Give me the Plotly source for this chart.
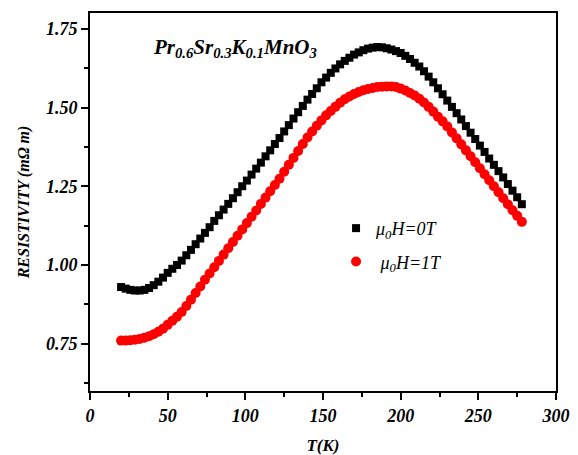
import plotly.graph_objects as go

# Temperature (K)
T = [20, 23, 26, 29, 32, 35, 38, 41, 44, 47, 50, 53, 56, 59, 62, 65, 68, 71, 74, 77,
     80, 83, 86, 89, 92, 95, 98, 101, 104, 107, 110, 113, 116, 119, 122, 125, 128, 131, 134, 137,
     140, 143, 146, 149, 152, 155, 158, 161, 164, 167, 170, 173, 176, 179, 182, 185, 188, 191, 194, 197,
     200, 203, 206, 209, 212, 215, 218, 221, 224, 227, 230, 233, 236, 239, 242, 245, 248, 251, 254, 257,
     260, 263, 266, 269, 272, 275, 278]

# Resistivity at mu0H = 0 T (mOhm m)
rho_0T = [0.930, 0.925, 0.921, 0.919, 0.919, 0.921, 0.927, 0.936, 0.947, 0.960,
          0.975, 0.988, 1.000, 1.014, 1.031, 1.048, 1.066, 1.084, 1.102, 1.120,
          1.140, 1.158, 1.176, 1.194, 1.212, 1.231, 1.250, 1.268, 1.287, 1.306,
          1.325, 1.345, 1.364, 1.384, 1.403, 1.424, 1.444, 1.465, 1.485, 1.505,
          1.525, 1.543, 1.561, 1.580, 1.595, 1.610, 1.624, 1.637, 1.648, 1.658,
          1.668, 1.675, 1.682, 1.687, 1.690, 1.692, 1.691, 1.688, 1.684, 1.679,
          1.673, 1.664, 1.654, 1.642, 1.630, 1.615, 1.598, 1.580, 1.561, 1.542,
          1.522, 1.502, 1.482, 1.462, 1.441, 1.420, 1.400, 1.379, 1.359, 1.338,
          1.318, 1.298, 1.278, 1.257, 1.236, 1.215, 1.193]

# Resistivity at mu0H = 1 T (mOhm m)
rho_1T = [0.760, 0.760, 0.761, 0.763, 0.765, 0.769, 0.774, 0.780, 0.788, 0.798,
          0.810, 0.823, 0.836, 0.851, 0.870, 0.890, 0.911, 0.932, 0.953, 0.973,
          0.993, 1.013, 1.033, 1.053, 1.073, 1.093, 1.113, 1.133, 1.153, 1.173,
          1.194, 1.214, 1.234, 1.254, 1.274, 1.296, 1.318, 1.340, 1.362, 1.384,
          1.405, 1.424, 1.442, 1.459, 1.475, 1.489, 1.502, 1.515, 1.526, 1.535,
          1.543, 1.549, 1.555, 1.559, 1.562, 1.565, 1.566, 1.567, 1.567, 1.565,
          1.560, 1.554, 1.546, 1.538, 1.528, 1.516, 1.502, 1.487, 1.471, 1.456,
          1.440, 1.421, 1.402, 1.383, 1.364, 1.345, 1.326, 1.307, 1.288, 1.269,
          1.250, 1.231, 1.212, 1.193, 1.174, 1.156, 1.137]

x_ticks = [0, 50, 100, 150, 200, 250, 300]
y_ticks = [0.75, 1.00, 1.25, 1.50, 1.75]

SERIF = "Liberation Serif"

fig = go.Figure()
fig.add_trace(go.Scatter(
    x=T, y=rho_0T, mode="markers", name="<i>μ<sub>0</sub>H=0T</i>",
    legendgroup="a",
    marker=dict(symbol="square", size=8, color="black", line=dict(width=0)),
))
fig.add_trace(go.Scatter(
    x=T, y=rho_1T, mode="markers", name=" <i>μ<sub>0</sub>H=1T</i>",
    legendgroup="b",
    marker=dict(symbol="circle", size=10, color="#ff0000", line=dict(width=0)),
))

axis_common = dict(
    showline=True, linecolor="black", linewidth=2, mirror=True,
    ticks="outside", ticklen=7, tickwidth=1.5, tickcolor="black",
    showgrid=False, zeroline=False, automargin=False,
    tickfont=dict(family=SERIF, size=18, color="black", weight="bold", style="italic"),
)

fig.update_xaxes(
    range=[0, 300], tickmode="array", tickvals=x_ticks,
    ticktext=[str(v) for v in x_ticks],
    minor=dict(dtick=25, ticks="outside", ticklen=4, tickwidth=1.5, tickcolor="black"),
    title=dict(text="T(K)", standoff=17,
               font=dict(family=SERIF, size=17, color="black", weight="bold", style="italic")),
    **axis_common,
)
fig.update_yaxes(
    range=[0.6, 1.8], tickmode="array", tickvals=y_ticks,
    ticktext=[f"{v:.2f}" for v in y_ticks],
    minor=dict(tick0=0.625, dtick=0.125, ticks="outside", ticklen=4, tickwidth=1.5, tickcolor="black"),
    title=dict(text="RESISTIVITY (<i>m</i>Ω <i>m</i>)", standoff=12,
               font=dict(family=SERIF, size=16, color="black", weight="bold", style="italic")),
    **axis_common,
)

fig.add_annotation(
    x=0.130, y=0.907, xref="paper", yref="paper", xanchor="left", yanchor="middle",
    text="Pr<sub>0.6</sub>Sr<sub>0.3</sub>K<sub>0.1</sub>MnO<sub>3</sub>",
    showarrow=False,
    font=dict(family=SERIF, size=21, color="black", weight="bold", style="italic"),
)

# the page adds an 8px body margin, so the figure is 8px smaller than the window
fig.update_layout(
    width=570, height=447,
    margin=dict(l=82, r=22, t=5, b=64),
    paper_bgcolor="white", plot_bgcolor="white",
    showlegend=True,
    legend=dict(
        x=0.528, y=0.479, xanchor="left", yanchor="top",
        bgcolor="rgba(0,0,0,0)", borderwidth=0,
        traceorder="grouped", tracegroupgap=7,
        font=dict(family=SERIF, size=18, color="black", style="italic"),
    ),
)

fig.write_html("out.html")
